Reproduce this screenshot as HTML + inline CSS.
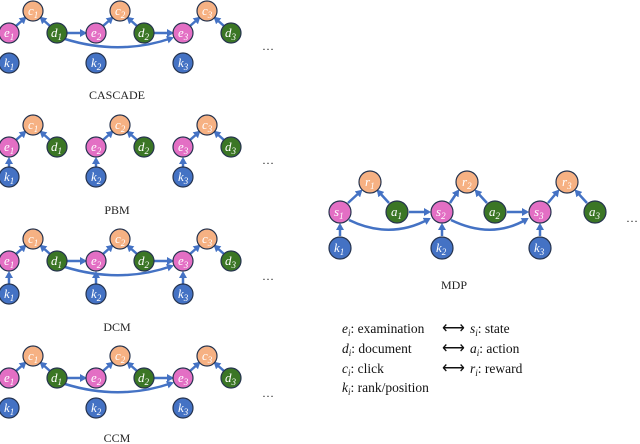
<!DOCTYPE html>
<html><head><meta charset="utf-8"><style>
body{margin:0;background:#fff}
svg{display:block}
.p{fill:#e36fc4;stroke:#26344f;stroke-width:1.2}
.o{fill:#f6b183;stroke:#26344f;stroke-width:1.2}
.g{fill:#3b7625;stroke:#26344f;stroke-width:1.2}
.b{fill:#4472c4;stroke:#26344f;stroke-width:1.2}
.n{font-family:"Liberation Serif",serif;font-style:italic;font-size:13px;fill:#fff}
.n tspan{font-size:9px}
.e{stroke:#4472c4;stroke-width:2.5;fill:none;marker-end:url(#a)}
.lb{font-family:"Liberation Serif",serif;font-size:12px;fill:#222}
.lg{font-family:"Liberation Serif",serif;font-size:13.5px;fill:#111}
</style></head><body>
<svg width="640" height="444" viewBox="0 0 640 444" xmlns="http://www.w3.org/2000/svg">
<defs><marker id="a" markerUnits="userSpaceOnUse" markerWidth="8" markerHeight="8" refX="5" refY="4" orient="auto"><path d="M0,0 L7,4 L0,8 z" fill="#4472c4"/></marker></defs>

<!-- CASCADE -->
<g transform="translate(0,0)">
<path class="e" d="M16,26 L25,18"/><path class="e" d="M50,26 L41,18"/>
<path class="e" d="M103,26 L112,18"/><path class="e" d="M137,26 L128,18"/>
<path class="e" d="M190,26 L199,18"/><path class="e" d="M224,26 L215,18"/>
<path class="e" d="M67,33 L85,33"/><path class="e" d="M154,33 L172,33"/>
<path class="e" d="M65,39 Q120,56 172,38"/>
<circle class="o" cx="33" cy="11" r="10"/><text class="n" x="28" y="15">c<tspan dy="3">1</tspan></text>
<circle class="o" cx="120" cy="11" r="10"/><text class="n" x="115" y="15">c<tspan dy="3">2</tspan></text>
<circle class="o" cx="207" cy="11" r="10"/><text class="n" x="202" y="15">c<tspan dy="3">3</tspan></text>
<circle class="p" cx="9" cy="33" r="10"/><text class="n" x="4" y="37">e<tspan dy="3">1</tspan></text>
<circle class="p" cx="96" cy="33" r="10"/><text class="n" x="91" y="37">e<tspan dy="3">2</tspan></text>
<circle class="p" cx="183" cy="33" r="10"/><text class="n" x="178" y="37">e<tspan dy="3">3</tspan></text>
<circle class="g" cx="57" cy="33" r="10"/><text class="n" x="51" y="37">d<tspan dy="3">1</tspan></text>
<circle class="g" cx="144" cy="33" r="10"/><text class="n" x="138" y="37">d<tspan dy="3">2</tspan></text>
<circle class="g" cx="231" cy="33" r="10"/><text class="n" x="225" y="37">d<tspan dy="3">3</tspan></text>
<circle class="b" cx="9" cy="63" r="10"/><text class="n" x="4" y="67">k<tspan dy="3">1</tspan></text>
<circle class="b" cx="96" cy="63" r="10"/><text class="n" x="91" y="67">k<tspan dy="3">2</tspan></text>
<circle class="b" cx="183" cy="63" r="10"/><text class="n" x="178" y="67">k<tspan dy="3">3</tspan></text>
<text class="lb" x="262" y="50">…</text>
<text class="lb" x="117" y="99" text-anchor="middle">CASCADE</text>
</g>

<!-- PBM -->
<g transform="translate(0,114)">
<path class="e" d="M16,26 L25,18"/><path class="e" d="M50,26 L41,18"/>
<path class="e" d="M103,26 L112,18"/><path class="e" d="M137,26 L128,18"/>
<path class="e" d="M190,26 L199,18"/><path class="e" d="M224,26 L215,18"/>
<path class="e" d="M9,53 L9,45"/><path class="e" d="M96,53 L96,45"/><path class="e" d="M183,53 L183,45"/>
<circle class="o" cx="33" cy="11" r="10"/><text class="n" x="28" y="15">c<tspan dy="3">1</tspan></text>
<circle class="o" cx="120" cy="11" r="10"/><text class="n" x="115" y="15">c<tspan dy="3">2</tspan></text>
<circle class="o" cx="207" cy="11" r="10"/><text class="n" x="202" y="15">c<tspan dy="3">3</tspan></text>
<circle class="p" cx="9" cy="33" r="10"/><text class="n" x="4" y="37">e<tspan dy="3">1</tspan></text>
<circle class="p" cx="96" cy="33" r="10"/><text class="n" x="91" y="37">e<tspan dy="3">2</tspan></text>
<circle class="p" cx="183" cy="33" r="10"/><text class="n" x="178" y="37">e<tspan dy="3">3</tspan></text>
<circle class="g" cx="57" cy="33" r="10"/><text class="n" x="51" y="37">d<tspan dy="3">1</tspan></text>
<circle class="g" cx="144" cy="33" r="10"/><text class="n" x="138" y="37">d<tspan dy="3">2</tspan></text>
<circle class="g" cx="231" cy="33" r="10"/><text class="n" x="225" y="37">d<tspan dy="3">3</tspan></text>
<circle class="b" cx="9" cy="63" r="10"/><text class="n" x="4" y="67">k<tspan dy="3">1</tspan></text>
<circle class="b" cx="96" cy="63" r="10"/><text class="n" x="91" y="67">k<tspan dy="3">2</tspan></text>
<circle class="b" cx="183" cy="63" r="10"/><text class="n" x="178" y="67">k<tspan dy="3">3</tspan></text>
<text class="lb" x="262" y="50">…</text>
<text class="lb" x="117" y="100" text-anchor="middle">PBM</text>
</g>

<!-- DCM -->
<g transform="translate(0,228)">
<path class="e" d="M16,26 L25,18"/><path class="e" d="M50,26 L41,18"/>
<path class="e" d="M103,26 L112,18"/><path class="e" d="M137,26 L128,18"/>
<path class="e" d="M190,26 L199,18"/><path class="e" d="M224,26 L215,18"/>
<path class="e" d="M67,33 L85,33"/><path class="e" d="M154,33 L172,33"/>
<path class="e" d="M65,39 Q120,56 172,38"/>
<path class="e" d="M9,56 L9,45"/><path class="e" d="M96,56 L96,45"/><path class="e" d="M183,56 L183,45"/>
<circle class="o" cx="33" cy="11" r="10"/><text class="n" x="28" y="15">c<tspan dy="3">1</tspan></text>
<circle class="o" cx="120" cy="11" r="10"/><text class="n" x="115" y="15">c<tspan dy="3">2</tspan></text>
<circle class="o" cx="207" cy="11" r="10"/><text class="n" x="202" y="15">c<tspan dy="3">3</tspan></text>
<circle class="p" cx="9" cy="33" r="10"/><text class="n" x="4" y="37">e<tspan dy="3">1</tspan></text>
<circle class="p" cx="96" cy="33" r="10"/><text class="n" x="91" y="37">e<tspan dy="3">2</tspan></text>
<circle class="p" cx="183" cy="33" r="10"/><text class="n" x="178" y="37">e<tspan dy="3">3</tspan></text>
<circle class="g" cx="57" cy="33" r="10"/><text class="n" x="51" y="37">d<tspan dy="3">1</tspan></text>
<circle class="g" cx="144" cy="33" r="10"/><text class="n" x="138" y="37">d<tspan dy="3">2</tspan></text>
<circle class="g" cx="231" cy="33" r="10"/><text class="n" x="225" y="37">d<tspan dy="3">3</tspan></text>
<circle class="b" cx="9" cy="66" r="10"/><text class="n" x="4" y="70">k<tspan dy="3">1</tspan></text>
<circle class="b" cx="96" cy="66" r="10"/><text class="n" x="91" y="70">k<tspan dy="3">2</tspan></text>
<circle class="b" cx="183" cy="66" r="10"/><text class="n" x="178" y="70">k<tspan dy="3">3</tspan></text>
<text class="lb" x="262" y="52">…</text>
<text class="lb" x="117" y="103" text-anchor="middle">DCM</text>
</g>

<!-- CCM -->
<g transform="translate(0,345)">
<path class="e" d="M16,26 L25,18"/><path class="e" d="M50,26 L41,18"/>
<path class="e" d="M103,26 L112,18"/><path class="e" d="M137,26 L128,18"/>
<path class="e" d="M190,26 L199,18"/><path class="e" d="M224,26 L215,18"/>
<path class="e" d="M67,33 L85,33"/><path class="e" d="M154,33 L172,33"/>
<path class="e" d="M65,39 Q120,56 172,38"/>
<circle class="o" cx="33" cy="11" r="10"/><text class="n" x="28" y="15">c<tspan dy="3">1</tspan></text>
<circle class="o" cx="120" cy="11" r="10"/><text class="n" x="115" y="15">c<tspan dy="3">2</tspan></text>
<circle class="o" cx="207" cy="11" r="10"/><text class="n" x="202" y="15">c<tspan dy="3">3</tspan></text>
<circle class="p" cx="9" cy="33" r="10"/><text class="n" x="4" y="37">e<tspan dy="3">1</tspan></text>
<circle class="p" cx="96" cy="33" r="10"/><text class="n" x="91" y="37">e<tspan dy="3">2</tspan></text>
<circle class="p" cx="183" cy="33" r="10"/><text class="n" x="178" y="37">e<tspan dy="3">3</tspan></text>
<circle class="g" cx="57" cy="33" r="10"/><text class="n" x="51" y="37">d<tspan dy="3">1</tspan></text>
<circle class="g" cx="144" cy="33" r="10"/><text class="n" x="138" y="37">d<tspan dy="3">2</tspan></text>
<circle class="g" cx="231" cy="33" r="10"/><text class="n" x="225" y="37">d<tspan dy="3">3</tspan></text>
<circle class="b" cx="9" cy="63" r="10"/><text class="n" x="4" y="67">k<tspan dy="3">1</tspan></text>
<circle class="b" cx="96" cy="63" r="10"/><text class="n" x="91" y="67">k<tspan dy="3">2</tspan></text>
<circle class="b" cx="183" cy="63" r="10"/><text class="n" x="178" y="67">k<tspan dy="3">3</tspan></text>
<text class="lb" x="262" y="52">…</text>
<text class="lb" x="117" y="97" text-anchor="middle">CCM</text>
</g>

<!-- MDP -->
<g>
<path class="e" d="M348,203 L361,191"/><path class="e" d="M389,203 L378,191"/>
<path class="e" d="M450,203 L458,191"/><path class="e" d="M487,203 L476,191"/>
<path class="e" d="M548,203 L558,191"/><path class="e" d="M587,203 L576,191"/>
<path class="e" d="M409,212 L429,212"/><path class="e" d="M507,212 L527,212"/>
<path class="e" d="M349,220 Q390,240 429,219"/><path class="e" d="M451,220 Q492,240 527,219"/>
<path class="e" d="M340,236 L340,225"/><path class="e" d="M442,236 L442,225"/><path class="e" d="M540,236 L540,225"/>
<circle class="o" cx="370" cy="182" r="11"/><text class="n" x="365" y="186">r<tspan dy="3">1</tspan></text>
<circle class="o" cx="467" cy="182" r="11"/><text class="n" x="462" y="186">r<tspan dy="3">2</tspan></text>
<circle class="o" cx="567" cy="182" r="11"/><text class="n" x="562" y="186">r<tspan dy="3">3</tspan></text>
<circle class="p" cx="340" cy="212" r="11"/><text class="n" x="334" y="216">s<tspan dy="3">1</tspan></text>
<circle class="p" cx="442" cy="212" r="11"/><text class="n" x="436" y="216">s<tspan dy="3">2</tspan></text>
<circle class="p" cx="540" cy="212" r="11"/><text class="n" x="534" y="216">s<tspan dy="3">3</tspan></text>
<circle class="g" cx="397" cy="212" r="11"/><text class="n" x="391" y="216">a<tspan dy="3">1</tspan></text>
<circle class="g" cx="495" cy="212" r="11"/><text class="n" x="489" y="216">a<tspan dy="3">2</tspan></text>
<circle class="g" cx="595" cy="212" r="11"/><text class="n" x="589" y="216">a<tspan dy="3">3</tspan></text>
<circle class="b" cx="340" cy="248" r="11"/><text class="n" x="334" y="252">k<tspan dy="3">1</tspan></text>
<circle class="b" cx="442" cy="248" r="11"/><text class="n" x="436" y="252">k<tspan dy="3">2</tspan></text>
<circle class="b" cx="540" cy="248" r="11"/><text class="n" x="534" y="252">k<tspan dy="3">3</tspan></text>
<text class="lb" x="626" y="222">…</text>
<text class="lb" x="454" y="289" text-anchor="middle">MDP</text>
</g>

<!-- Legend -->
<g class="lg">
<text x="342" y="333"><tspan font-style="italic">e</tspan><tspan font-style="italic" font-size="9" dy="3">i</tspan><tspan dy="-3">: examination</tspan></text>
<text x="342" y="353"><tspan font-style="italic">d</tspan><tspan font-style="italic" font-size="9" dy="3">i</tspan><tspan dy="-3">: document</tspan></text>
<text x="342" y="373"><tspan font-style="italic">c</tspan><tspan font-style="italic" font-size="9" dy="3">i</tspan><tspan dy="-3">: click</tspan></text>
<text x="342" y="392"><tspan font-style="italic">k</tspan><tspan font-style="italic" font-size="9" dy="3">i</tspan><tspan dy="-3">: rank/position</tspan></text>
<text x="442" y="333" font-size="16">⟷</text>
<text x="442" y="353" font-size="16">⟷</text>
<text x="442" y="373" font-size="16">⟷</text>
<text x="470" y="333"><tspan font-style="italic">s</tspan><tspan font-style="italic" font-size="9" dy="3">i</tspan><tspan dy="-3">: state</tspan></text>
<text x="470" y="353"><tspan font-style="italic">a</tspan><tspan font-style="italic" font-size="9" dy="3">i</tspan><tspan dy="-3">: action</tspan></text>
<text x="470" y="373"><tspan font-style="italic">r</tspan><tspan font-style="italic" font-size="9" dy="3">i</tspan><tspan dy="-3">: reward</tspan></text>
</g>
</svg>
</body></html>
